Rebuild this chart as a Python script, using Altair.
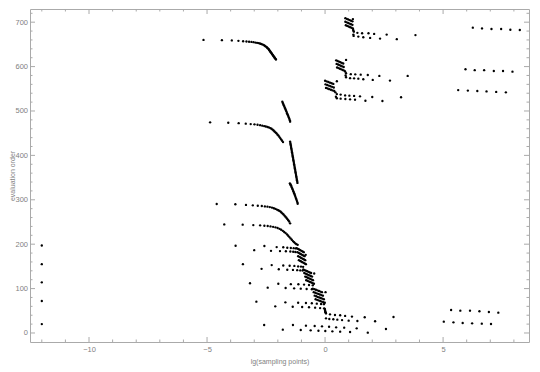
import altair as alt
import pandas as pd

# ---------------- data ----------------
left_x = [-12, -12, -12, -12, -12]
left_y = [197, 155, 114, 72, 20]

a_x = [-5.15, -4.37, -3.95, -3.67, -3.47, -3.33, -3.22, -3.12, -3.03, -2.95, -2.88, -2.82, -2.76,
       -2.71, -2.66, -2.61, -2.57, -2.53, -2.49, -2.46, -2.43, -2.40, -2.38, -2.36, -2.34, -2.32,
       -2.30, -2.28, -2.26, -2.24, -2.22, -2.20, -2.18, -2.16, -2.14, -2.12, -2.10, -2.08]
a_y = [660, 659.5, 659, 658, 657, 656.5, 656, 655.5, 655, 654, 653.5, 653, 652, 651, 650, 649,
       647.5, 646, 644.5, 643, 641.5, 640, 638.5, 637, 635.5, 634, 632.5, 631, 629.5, 628, 626.5,
       625, 623.5, 622, 620.5, 619, 617.5, 616]

b_x = [-1.81, -1.79, -1.77, -1.75, -1.73, -1.71, -1.69, -1.67, -1.65, -1.63, -1.61, -1.59,
       -1.57, -1.55, -1.53, -1.51, -1.49, -1.48]
b_y = [521, 518, 516, 513, 511, 508, 505.5, 503, 500.5, 498, 495, 492.5, 490, 487, 484.5,
       482, 479, 476]

c_x = [-4.87, -4.10, -3.66, -3.36, -3.15, -2.99, -2.86, -2.75, -2.66, -2.58, -2.51, -2.44,
       -2.38, -2.32, -2.27, -2.22, -2.18, -2.14, -2.10, -2.06, -2.02, -1.98, -1.94, -1.90,
       -1.86, -1.82, -1.78]
c_y = [474.5, 473.5, 472.5, 471.5, 470.5, 470, 469, 468, 467, 466, 465, 464, 463, 461.5, 460,
       458, 456, 454, 452, 450, 447, 445, 442, 439, 436, 433, 430]

d_x = [-1.48, -1.47, -1.46, -1.45, -1.44, -1.43, -1.42, -1.41, -1.40, -1.39, -1.38, -1.37,
       -1.36, -1.35, -1.34, -1.33, -1.32, -1.31, -1.30, -1.29, -1.28, -1.27, -1.26, -1.25,
       -1.24, -1.23, -1.22, -1.21, -1.20, -1.19, -1.18, -1.17]
d_y = [431, 428, 425, 422, 419, 416, 413, 410, 407, 404, 401, 398, 395, 392, 389, 386, 383,
       380, 377, 374, 371, 368, 365, 362, 359, 356, 353, 350, 347, 344, 341, 338]

e_x = [-1.49, -1.47, -1.45, -1.43, -1.41, -1.39, -1.37, -1.35, -1.33, -1.31, -1.29, -1.27,
       -1.25, -1.23, -1.21, -1.19, -1.17, -1.16]
e_y = [337, 335, 333, 331, 328, 325.5, 323, 320, 317.5, 315, 312, 309, 306, 303, 300, 297,
       294, 291]

f_x = [-4.59, -3.80, -3.35, -3.06, -2.85, -2.68, -2.55, -2.44, -2.34, -2.25, -2.17, -2.10,
       -2.04, -1.98, -1.93, -1.88, -1.84, -1.80, -1.76, -1.72, -1.68, -1.64, -1.60, -1.56,
       -1.52, -1.48]
f_y = [290.5, 290, 288.5, 287.5, 286.5, 286, 285, 284.5, 283.5, 282.5, 281, 279.5, 278,
       276.5, 275, 273, 271, 269, 267, 264.5, 262, 259.5, 257, 254, 251, 247]

g_x = [-4.27, -3.49, -3.04, -2.75, -2.57, -2.43, -2.31, -2.20, -2.10, -2.01, -1.93, -1.86,
       -1.79, -1.73, -1.67, -1.61, -1.56, -1.51, -1.46, -1.41, -1.36, -1.31, -1.26, -1.21, -1.16]
g_y = [244.5, 244, 243, 242.5, 241.5, 241, 240, 239, 238, 236.5, 234.5, 232.5, 230, 227.5,
       225, 222, 219, 216, 213, 210, 207, 204.5, 202, 200, 198.5]

# band 1 (~196 / ~186)
b1u_x = [-3.79, -2.57, -2.05, -1.77, -1.60, -1.45, -1.33, -1.24]
b1u_y = [196.5, 196, 193.5, 193, 192, 191.5, 191, 190.5]
b1l_x = [-3.00, -2.29, -1.91, -1.66, -1.47, -1.35, -1.26]
b1l_y = [186.5, 185, 184.5, 184, 183.5, 183, 182.5]
b1s_x = [-1.20, -1.15, -1.10, -1.05, -1.00, -0.95, -0.90,
         -1.17, -1.12, -1.07, -1.02, -0.97, -0.92, -0.87,
         -1.14, -1.09, -1.04, -0.99, -0.94, -0.89, -0.84,
         -1.11, -1.06, -1.01, -0.96, -0.91, -0.86, -0.81, -0.82]
b1s_y = [191, 189.5, 188, 186.5, 185, 183.5, 182,
         182, 180.5, 179, 177.5, 176, 174.5, 173,
         173, 171.5, 170, 168.5, 167, 165.5, 164,
         164, 162.5, 161, 159.5, 158, 156.5, 155, 176]

# band 2 (~154 / ~144)
b2u_x = [-3.48, -2.26, -1.77, -1.50, -1.30, -1.14, -1.02, -0.93]
b2u_y = [155, 153, 152, 151.5, 151, 150, 149.5, 149]
b2l_x = [-2.69, -1.96, -1.60, -1.36, -1.18, -1.05, -0.95]
b2l_y = [144.5, 143.5, 142.5, 142, 141.5, 141, 140.5]
b2s_x = [-0.92, -0.865, -0.81, -0.755, -0.70, -0.645, -0.59,
         -0.88, -0.825, -0.77, -0.715, -0.66, -0.605, -0.55,
         -0.84, -0.785, -0.73, -0.675, -0.62, -0.565, -0.51,
         -0.80, -0.745, -0.69, -0.635, -0.58, -0.525, -0.47, -0.46]
b2s_y = [143, 141.7, 140.3, 139, 137.7, 136.3, 135,
         135, 133.7, 132.3, 131, 129.7, 128.3, 127,
         127, 125.7, 124.3, 123, 121.7, 120.3, 119,
         119, 117.7, 116.3, 115, 113.7, 112.3, 111, 134]

# band 3 (~112 / ~102)
b3u_x = [-3.18, -1.98, -1.45, -1.13, -0.89, -0.68, -0.52]
b3u_y = [112, 111, 110, 109.7, 109, 108, 107.4]
b3l_x = [-2.43, -1.67, -1.31, -1.03, -0.78, -0.56]
b3l_y = [102, 101.4, 100.6, 99.8, 99, 98.4]
b3s_x = [-0.52, -0.455, -0.39, -0.325, -0.26, -0.195, -0.13,
         -0.48, -0.415, -0.35, -0.285, -0.22, -0.155, -0.09,
         -0.44, -0.375, -0.31, -0.245, -0.18, -0.115, -0.05,
         -0.40, -0.335, -0.27, -0.205, -0.14, -0.075, -0.01, 0.02]
b3s_y = [100, 98.7, 97.3, 96, 94.7, 93.3, 92,
         92, 90.7, 89.3, 88, 86.7, 85.3, 84,
         84, 82.7, 81.3, 80, 78.7, 77.3, 76,
         76, 74.7, 73.3, 72, 70.7, 69.3, 68, 92]

# band 4 (~70 / ~60, continuing past 0 at ~42 / ~32)
b4u_x = [-2.91, -1.68, -1.14, -0.81, -0.56, -0.35, -0.17, -0.05]
b4u_y = [70.5, 69, 68, 67.5, 67, 66, 65.3, 65]
b4l_x = [-2.11, -1.37, -0.97, -0.68, -0.42, -0.21, -0.04]
b4l_y = [60, 59, 58.6, 58, 57, 56, 55.6]
b4s_x = [-0.01, 0.0, 0.0, 0.01, 0.02, 0.03]
b4s_y = [54, 52, 50, 48, 46.5, 45.5]
b4ru_x = [0.04, 0.21, 0.42, 0.64, 0.85, 1.14, 1.68, 2.90]
b4ru_y = [44, 42, 40.5, 40, 38.5, 37, 35.5, 36]
b4rl_x = [0.04, 0.18, 0.35, 0.52, 0.72, 1.00, 1.37, 2.12]
b4rl_y = [33, 31.5, 31, 30, 29, 27.7, 27, 26.5]

# band 5 (~18 / ~7)
b5u_x = [-2.58, -1.36, -0.81, -0.44, -0.13, 0.17, 0.47, 0.81, 1.34, 2.58]
b5u_y = [18, 18, 16.5, 15.8, 15, 14, 12.8, 12, 10.5, 9]
b5l_x = [-1.79, -1.03, -0.61, -0.28, 0.01, 0.31, 0.64, 1.06, 1.81]
b5l_y = [7.5, 6.8, 6, 5, 4.5, 3.8, 3, 2.3, 0.7]

# bottom right rows
bru_x = [5.34, 5.73, 6.14, 6.54, 6.94, 7.34]
bru_y = [51.8, 50.2, 50.2, 48.9, 47.3, 45.7]
brl_x = [5.03, 5.44, 5.83, 6.23, 6.64, 7.03]
brl_y = [25.5, 24, 22.5, 21.8, 21, 20.3]

# top right clusters
tr1s_x = [0.86, 0.92, 0.98, 1.04, 1.10, 1.16, 0.86, 0.92, 0.98, 1.04, 1.10, 1.16,
          0.88, 0.94, 1.00, 1.06, 1.12, 1.18, 1.18]
tr1s_y = [709, 707.6, 706.2, 704.8, 703.4, 702, 701, 699.6, 698.2, 696.8, 695.4, 694,
          693, 691.6, 690.2, 688.8, 687.4, 686, 707]
tr1u_x = [1.19, 1.20, 1.22, 1.37, 1.57, 1.84, 2.08, 2.61, 3.83]
tr1u_y = [683, 680.5, 678.6, 676, 675, 675, 673.6, 672, 671]
tr1l_x = [1.20, 1.21, 1.41, 1.62, 1.91, 2.33, 3.04]
tr1l_y = [672, 669, 667.6, 666, 664.6, 663, 661.7]

tr2s_x = [0.47, 0.53, 0.59, 0.65, 0.71, 0.77, 0.49, 0.55, 0.61, 0.67, 0.73, 0.79,
          0.51, 0.57, 0.63, 0.69, 0.75, 0.81, 0.89]
tr2s_y = [614, 612.6, 611.2, 609.8, 608.4, 607, 606, 604.6, 603.2, 601.8, 600.4, 599,
          598, 596.6, 595.2, 593.8, 592.4, 591, 615]
tr2u_x = [0.85, 0.89, 1.09, 1.28, 1.51, 1.81, 2.30, 3.50]
tr2u_y = [589, 585, 583, 582.5, 581.8, 581, 579, 579]
tr2l_x = [0.87, 0.89, 1.06, 1.23, 1.41, 1.62, 2.02, 2.75]
tr2l_y = [580, 576, 574, 573.6, 572.8, 571.4, 570, 568.5]

tr3s_x = [0.00, 0.07, 0.14, 0.21, 0.28, 0.35, 0.02, 0.09, 0.16, 0.23, 0.30, 0.37,
          0.04, 0.11, 0.18, 0.25, 0.32, 0.39, 0.50]
tr3s_y = [568, 566.6, 565.2, 563.8, 562.4, 561, 560, 558.6, 557.2, 555.8, 554.4, 553,
          552, 550.6, 549.2, 547.8, 546.4, 545, 567]
tr3u_x = [0.44, 0.50, 0.66, 0.85, 1.03, 1.23, 1.48, 2.00, 3.22]
tr3u_y = [542, 538, 537, 535, 534.5, 534, 533, 531.5, 531]
tr3l_x = [0.46, 0.50, 0.66, 0.86, 1.06, 1.27, 1.71, 2.43]
tr3l_y = [532, 528.6, 527.7, 527, 526.3, 525.5, 523, 522.5]

# far right rows
rr1_x = [6.26, 6.65, 7.05, 7.46, 7.85, 8.25]
rr1_y = [687.6, 686, 684.7, 684.7, 683, 682.4]
rr2_x = [5.95, 6.34, 6.74, 7.15, 7.54, 7.94]
rr2_y = [594, 592, 592, 590, 590, 588.5]
rr3_x = [5.64, 6.05, 6.45, 6.84, 7.25, 7.66]
rr3_y = [547, 546, 545, 544, 543, 542]

# axis ticks
x_major = [-10, -5, 0, 5]
x_minor = [-12, -11, -9, -8, -7, -6, -4, -3, -2, -1, 1, 2, 3, 4, 6, 7, 8]
y_major = [0, 100, 200, 300, 400, 500, 600, 700]
y_minor = [20, 40, 60, 80, 120, 140, 160, 180, 220, 240, 260, 280, 320, 340, 360, 380,
           420, 440, 460, 480, 520, 540, 560, 580, 620, 640, 660, 680, 720]

# ---------------- chart ----------------
groups = [(left_x, left_y), (a_x, a_y), (b_x, b_y), (c_x, c_y), (d_x, d_y), (e_x, e_y),
          (f_x, f_y), (g_x, g_y), (b1u_x, b1u_y), (b1l_x, b1l_y), (b1s_x, b1s_y),
          (b2u_x, b2u_y), (b2l_x, b2l_y), (b2s_x, b2s_y), (b3u_x, b3u_y), (b3l_x, b3l_y),
          (b3s_x, b3s_y), (b4u_x, b4u_y), (b4l_x, b4l_y), (b4s_x, b4s_y), (b4ru_x, b4ru_y),
          (b4rl_x, b4rl_y), (b5u_x, b5u_y), (b5l_x, b5l_y), (bru_x, bru_y), (brl_x, brl_y),
          (tr1s_x, tr1s_y), (tr1u_x, tr1u_y), (tr1l_x, tr1l_y), (tr2s_x, tr2s_y),
          (tr2u_x, tr2u_y), (tr2l_x, tr2l_y), (tr3s_x, tr3s_y), (tr3u_x, tr3u_y),
          (tr3l_x, tr3l_y), (rr1_x, rr1_y), (rr2_x, rr2_y), (rr3_x, rr3_y)]
xs, ys = [], []
for gx, gy in groups:
    assert len(gx) == len(gy)
    xs += list(gx)
    ys += list(gy)
df = pd.DataFrame({"x": xs, "y": ys})

W, H = 499, 333
FRAME = "#aaaaaa"
LABEL = "#7f7f7f"
FONT = "Liberation Sans"

xscale = alt.Scale(domain=[-12.5, 8.64], nice=False, zero=False)
yscale = alt.Scale(domain=[-20.3, 729.7], nice=False, zero=False)

points = alt.Chart(df).mark_circle(size=5.5, color="black", opacity=1).encode(
    x=alt.X("x:Q", scale=xscale, axis=alt.Axis(
        values=x_major, ticks=False, tickSize=0, domain=False, grid=False,
        labelFont=FONT, labelFontSize=7.5, labelColor=LABEL, labelPadding=3,
        labelFlush=False, title="lg(sampling points)", titleFont=FONT, titleFontSize=7,
        titleFontWeight="normal", titleColor=LABEL, titleY=15, titleBaseline="top")),
    y=alt.Y("y:Q", scale=yscale, axis=alt.Axis(
        values=y_major, ticks=False, tickSize=0, domain=False, grid=False,
        labelFont=FONT, labelFontSize=7.5, labelColor=LABEL, labelPadding=2.5,
        labelFlush=False, title="evaluation order", titleFont=FONT, titleFontSize=7,
        titleFontWeight="normal", titleColor=LABEL, titleX=-16, titleAngle=270,
        titleBaseline="alphabetic")),
)

def xticks(vals, length):
    d = pd.DataFrame({"v": vals})
    base = alt.Chart(d).mark_rule(color=FRAME, strokeWidth=1)
    bottom = base.encode(x=alt.X("v:Q", scale=xscale, axis=None),
                         y=alt.value(H), y2=alt.value(H - length))
    top = base.encode(x=alt.X("v:Q", scale=xscale, axis=None),
                      y=alt.value(0), y2=alt.value(length))
    return [bottom, top]

def yticks(vals, length):
    d = pd.DataFrame({"v": vals})
    base = alt.Chart(d).mark_rule(color=FRAME, strokeWidth=1)
    left = base.encode(y=alt.Y("v:Q", scale=yscale, axis=None),
                       x=alt.value(0), x2=alt.value(length))
    right = base.encode(y=alt.Y("v:Q", scale=yscale, axis=None),
                        x=alt.value(W), x2=alt.value(W - length))
    return [left, right]

layers = ([points] + xticks(x_major, 5) + xticks(x_minor, 2.5) +
          yticks(y_major, 5) + yticks(y_minor, 2.5))

chart = alt.layer(*layers).resolve_axis(x="independent", y="independent").properties(
    width=W, height=H, autosize="none",
    padding={"left": 22, "top": 1, "right": 3, "bottom": 28},
    background="white",
).configure_view(stroke=FRAME, strokeWidth=1)

chart.save("out.html", embed_options={"renderer": "svg", "actions": False})
